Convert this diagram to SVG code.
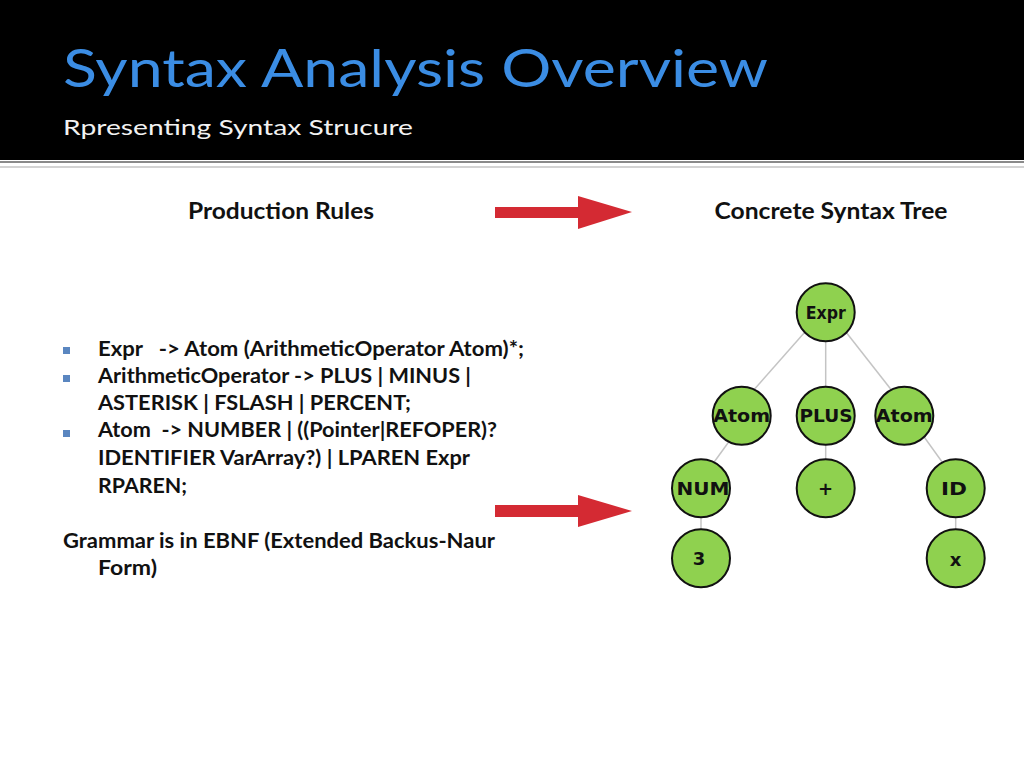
<svg xmlns="http://www.w3.org/2000/svg" width="1024" height="768" viewBox="0 0 1024 768">
<style>
.title{font-family:Lato,"Liberation Sans",sans-serif;font-size:52px;fill:#3b8de4}
.sub{font-family:Lato,"Liberation Sans",sans-serif;font-size:22px;fill:#f2f2f2}
.hdr{font-family:Lato,"Liberation Sans",sans-serif;font-size:22px;font-weight:bold;fill:#111;text-anchor:middle}
.body{font-family:Lato,"Liberation Sans",sans-serif;font-size:20px;font-weight:bold;fill:#111;white-space:pre}
.bul{fill:#5a86c0}
.node circle{fill:#8fd14f;stroke:#111;stroke-width:2}
.node text{font-family:"DejaVu Sans",Verdana,sans-serif;font-size:18px;font-weight:bold;fill:#111;text-anchor:middle}
.edge{stroke:#c4c4c4;stroke-width:1.5;fill:none}
.arrow{fill:#d42a33}
</style>
<rect x="0" y="0" width="1024" height="160" fill="#000"/>
<line x1="0" y1="162" x2="1024" y2="162" stroke="#8a8a8a" stroke-width="2"/>
<line x1="0" y1="167" x2="1024" y2="167" stroke="#c4c4c4" stroke-width="1.5"/>
<text class="title" x="63" y="87" textLength="705" lengthAdjust="spacingAndGlyphs">Syntax Analysis Overview</text>
<text class="sub" x="63" y="135" textLength="350" lengthAdjust="spacingAndGlyphs">Rpresenting Syntax Strucure</text>

<text class="hdr" x="281" y="219" textLength="186" lengthAdjust="spacingAndGlyphs">Production Rules</text>
<text class="hdr" x="831" y="219" textLength="233" lengthAdjust="spacingAndGlyphs">Concrete Syntax Tree</text>

<g id="rules">
<rect class="bul" x="63" y="347" width="7" height="7"/>
<rect class="bul" x="63" y="375" width="7" height="7"/>
<rect class="bul" x="63" y="430" width="7" height="7"/>
<text class="body" x="98" y="356" textLength="426" lengthAdjust="spacingAndGlyphs" xml:space="preserve">Expr   -&gt; Atom (ArithmeticOperator Atom)*;</text>
<text class="body" x="98" y="383" textLength="373" lengthAdjust="spacingAndGlyphs">ArithmeticOperator -&gt; PLUS | MINUS |</text>
<text class="body" x="98" y="410" textLength="313" lengthAdjust="spacingAndGlyphs">ASTERISK | FSLASH | PERCENT;</text>
<text class="body" x="98" y="437" textLength="399" lengthAdjust="spacingAndGlyphs" xml:space="preserve">Atom  -&gt; NUMBER | ((Pointer|REFOPER)?</text>
<text class="body" x="98" y="465" textLength="372" lengthAdjust="spacingAndGlyphs">IDENTIFIER VarArray?) | LPAREN Expr</text>
<text class="body" x="98" y="493" textLength="89" lengthAdjust="spacingAndGlyphs">RPAREN;</text>
<text class="body" x="63" y="548" textLength="432" lengthAdjust="spacingAndGlyphs">Grammar is in EBNF (Extended Backus-Naur</text>
<text class="body" x="98" y="575" textLength="59" lengthAdjust="spacingAndGlyphs">Form)</text>
</g>

<g id="connectors">
<rect class="arrow" x="495" y="207" width="84" height="11"/>
<polygon class="arrow" points="578,196 632,212 578,229"/>
<rect class="arrow" x="495" y="505" width="84" height="12"/>
<polygon class="arrow" points="578,495 632,511 578,527"/>
<line class="edge" x1="812" y1="324" x2="752" y2="392"/>
<line class="edge" x1="825.7" y1="335" x2="825.7" y2="392"/>
<line class="edge" x1="842" y1="327" x2="893" y2="392"/>
<line class="edge" x1="733" y1="436" x2="712" y2="465"/>
<line class="edge" x1="825.7" y1="440" x2="825.7" y2="465"/>
<line class="edge" x1="922" y1="434" x2="945" y2="466"/>
<line class="edge" x1="701" y1="510" x2="701" y2="535"/>
<line class="edge" x1="955.7" y1="510" x2="955.7" y2="535"/>
</g>

<g id="n-expr" class="node"><circle cx="825.7" cy="312.3" r="29"/><text x="825.7" y="319" textLength="40" lengthAdjust="spacingAndGlyphs">Expr</text></g>
<g id="n-atom1" class="node"><circle cx="741.7" cy="415.7" r="29"/><text x="741.7" y="422" textLength="57" lengthAdjust="spacingAndGlyphs">Atom</text></g>
<g id="n-plus" class="node"><circle cx="825.7" cy="415.7" r="29"/><text x="826" y="422" textLength="53" lengthAdjust="spacingAndGlyphs">PLUS</text></g>
<g id="n-atom2" class="node"><circle cx="904.3" cy="415.7" r="29"/><text x="904.3" y="422" textLength="57" lengthAdjust="spacingAndGlyphs">Atom</text></g>
<g id="n-num" class="node"><circle cx="701" cy="488.3" r="29"/><text x="703" y="495" textLength="53" lengthAdjust="spacingAndGlyphs">NUM</text></g>
<g id="n-plussign" class="node"><circle cx="825.7" cy="488.3" r="29"/><text x="825.5" y="495">+</text></g>
<g id="n-id" class="node"><circle cx="955.7" cy="488.3" r="29"/><text x="954" y="494.5" textLength="26" lengthAdjust="spacingAndGlyphs">ID</text></g>
<g id="n-3" class="node"><circle cx="701" cy="558.3" r="29"/><text x="699" y="565">3</text></g>
<g id="n-x" class="node"><circle cx="955.7" cy="558.3" r="29"/><text x="955.5" y="566">x</text></g>
</svg>
